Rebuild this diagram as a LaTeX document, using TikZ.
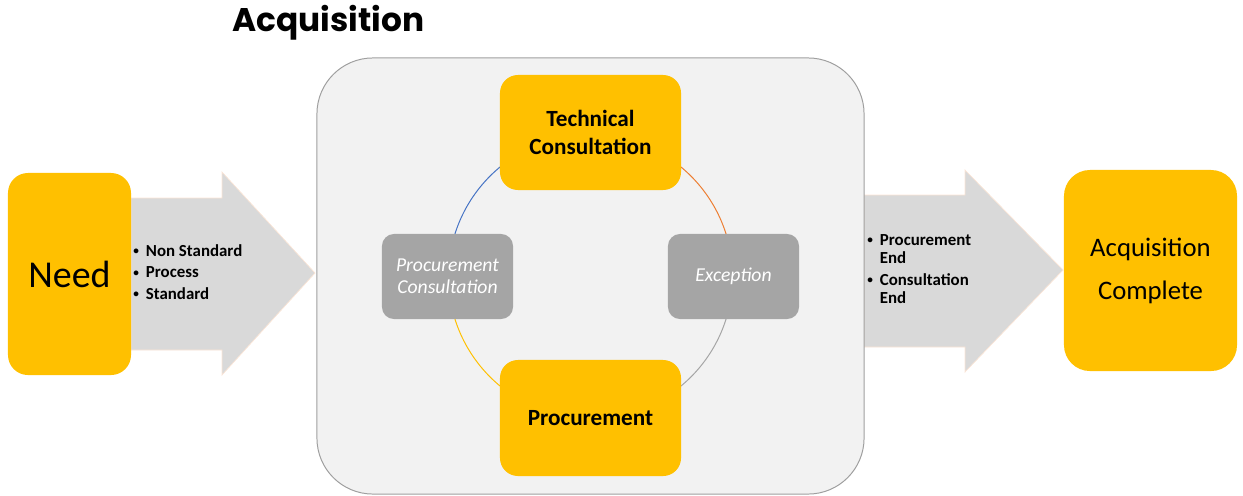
\documentclass[tikz,border=0pt]{standalone}
\usepackage{fontspec}
\setmainfont{Carlito}
\newfontfamily\headfont{Poppins}
\usetikzlibrary{positioning}

\definecolor{boxgold}{HTML}{FFC000}
\definecolor{boxgrey}{HTML}{A5A5A5}
\definecolor{panelgrey}{HTML}{F2F2F2}
\definecolor{arrowgrey}{HTML}{D9D9D9}
\definecolor{arcblue}{HTML}{4472C4}
\definecolor{arcorange}{HTML}{ED7D31}

\newcommand{\dotitem}{\raisebox{1.3pt}{\fontsize{8}{8}\selectfont\textbullet}\hspace{5pt}}

\tikzset{
    goldbox/.style = {fill=boxgold, rounded corners=0.45cm, align=center, inner sep=0pt},
    greybox/.style = {fill=boxgrey, rounded corners=0.3cm, align=center, text=white,
        minimum width=3.275cm, minimum height=2.125cm,
        font = {\fontsize{14}{15.6}\selectfont\itshape}},
    bigarrow/.style = {fill=arrowgrey, draw=arcorange!20, line width=0.5pt},
    ring/.style = {line width=0.7pt},
    bullets/.style = {anchor=west, align=left, inner sep=0pt}
}

\begin{document}
\begin{tikzpicture}[x=0.025cm, y=-0.025cm]
    \useasboundingbox (0,0) rectangle (1243,495);

    \node[font = {\headfont\bfseries\fontsize{23.3}{27}\selectfont}, anchor=base west, inner sep=0pt] (title) at (232,31) {Acquisition};

    % arrows in and out of the panel
    \draw[bigarrow] (131,198) -- (222,198) -- (222,172) -- (315,273) -- (222,375) -- (222,350) -- (131,350) -- cycle;
    \draw[bigarrow] (864,195) -- (965,195) -- (965,170) -- (1063,270) -- (965,372) -- (965,347) -- (864,347) -- cycle;

    \node[fill=panelgrey, draw=gray!75, line width=0.7pt, rounded corners=1.4cm,
        minimum width=13.675cm, minimum height=10.9cm] (panel) at (590.5,276) {};

    % ring behind the four steps
    \coordinate (hub) at (590.5,276.5);
    \draw[ring, arcblue] (hub) ++(90:3.55cm) arc[start angle=90, end angle=180, radius=3.55cm];
    \draw[ring, arcorange] (hub) ++(0:3.55cm) arc[start angle=0, end angle=90, radius=3.55cm];
    \draw[ring, boxgrey] (hub) ++(270:3.55cm) arc[start angle=270, end angle=360, radius=3.55cm];
    \draw[ring, boxgold] (hub) ++(180:3.55cm) arc[start angle=180, end angle=270, radius=3.55cm];

    \node[goldbox, minimum width=3.075cm, minimum height=5.05cm, rounded corners=0.5cm,
        font = {\fontsize{27}{30}\selectfont}] (need) at (69.5,274) {Need};
    \node[goldbox, minimum width=4.525cm, minimum height=2.875cm,
        font = {\fontsize{16.5}{20}\selectfont\bfseries}] (technical) at (590.5,132.5) {Technical\\Consultation};
    \node[goldbox, minimum width=4.525cm, minimum height=2.9cm,
        font = {\fontsize{16.5}{20}\selectfont\bfseries}] (procurement) at (590.5,418) {Procurement};
    \node[greybox] (proccons) at (447.5,276.5) {Procurement\\Consultation};
    \node[greybox] (exception) at (733.5,276.5) {Exception};
    \node[goldbox, minimum width=4.325cm, minimum height=5.025cm, rounded corners=0.65cm,
        font = {\fontsize{19}{30.6}\selectfont}] (complete) at (1150.5,270.5) {Acquisition\\Complete};

    \node[bullets, font = {\fontsize{12}{15.3}\selectfont\bfseries}] (inlist) at (133,272)
        {\dotitem Non Standard\\ \dotitem Process\\ \dotitem Standard};
    \node[bullets, font = {\fontsize{12}{12.8}\selectfont\bfseries}] (outlist) at (867,269)
        {\dotitem Procurement\\ \hphantom{\dotitem}End\\[2.8pt]
         \dotitem Consultation\\ \hphantom{\dotitem}End};
\end{tikzpicture}
\end{document}
